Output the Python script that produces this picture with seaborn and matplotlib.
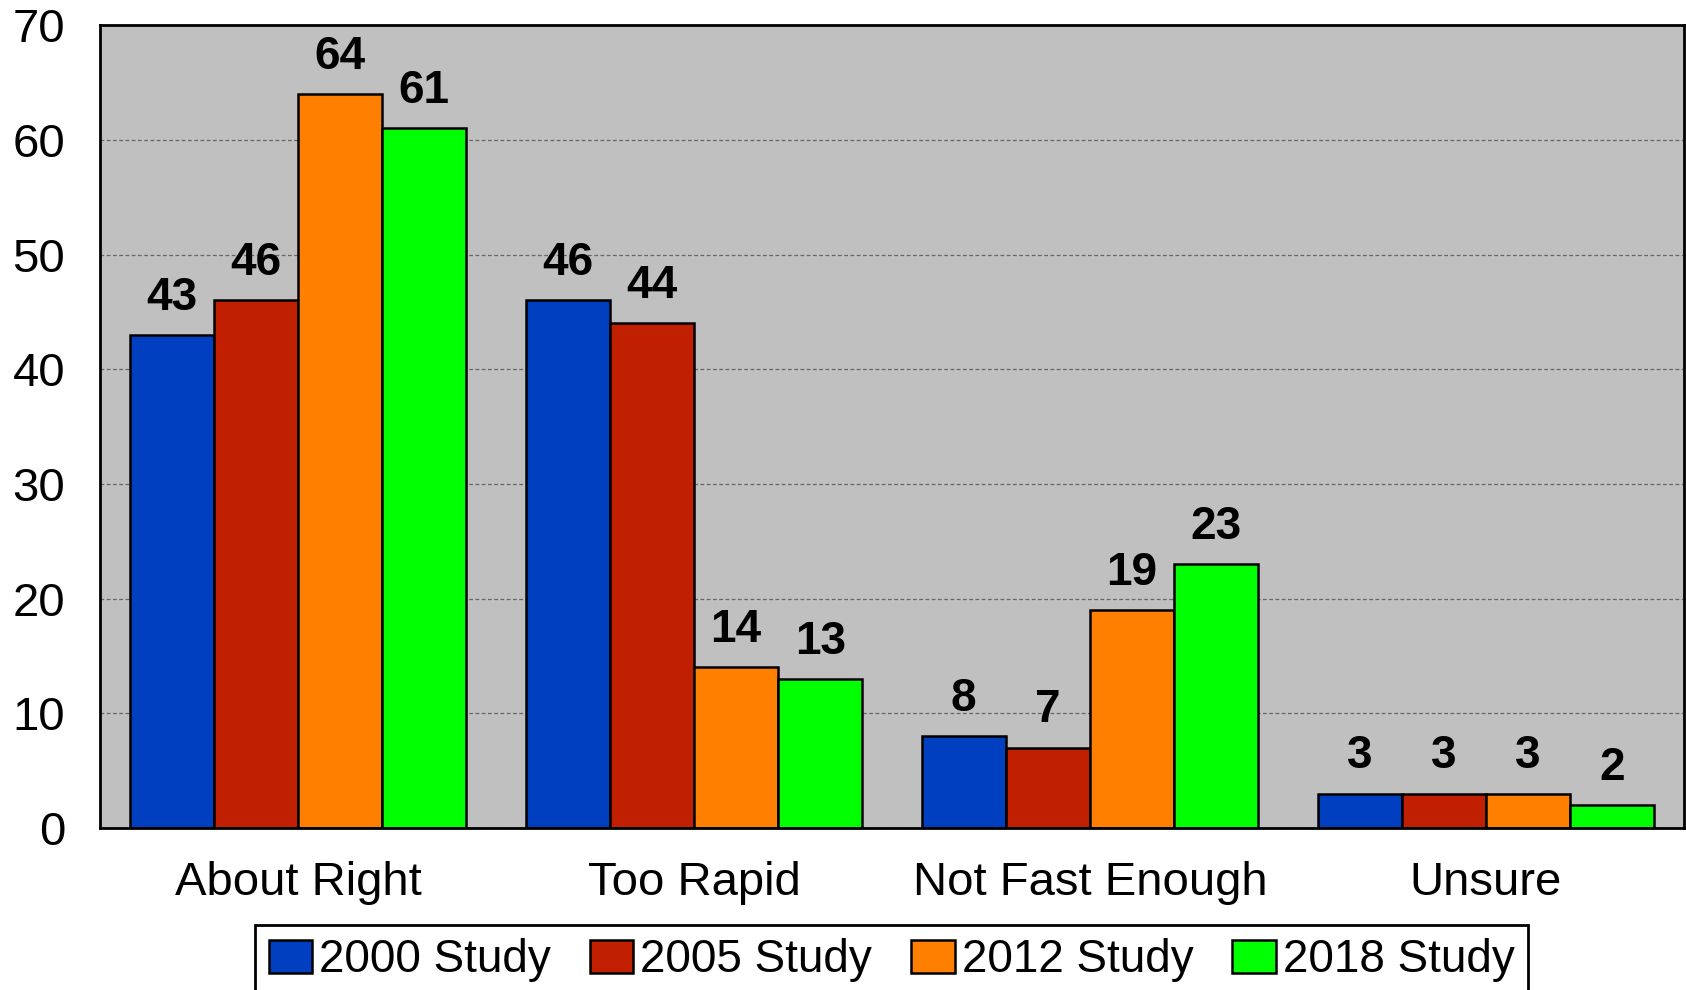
import pandas as pd
import seaborn as sns
import matplotlib.pyplot as plt

categories = ['About Right', 'Too Rapid', 'Not Fast Enough', 'Unsure']
studies = ['2000 Study', '2005 Study', '2012 Study', '2018 Study']
v2000 = [43, 46, 8, 3]
v2005 = [46, 44, 7, 3]
v2012 = [64, 14, 19, 3]
v2018 = [61, 13, 23, 2]
colors = ['#0040C0', '#C02000', '#FF8000', '#00FF00']

rows = []
for study, vals in zip(studies, [v2000, v2005, v2012, v2018]):
    for cat, v in zip(categories, vals):
        rows.append({'Response': cat, 'Study': study, 'Value': v})
df = pd.DataFrame(rows)

sns.set_style('ticks')
plt.rcParams['font.family'] = ['Liberation Sans', 'DejaVu Sans']
plt.rcParams['text.color'] = 'black'
plt.rcParams['xtick.color'] = 'black'
plt.rcParams['ytick.color'] = 'black'

fig = plt.figure(figsize=(16.86, 9.9), dpi=100)
ax = fig.add_axes([0.0593, 0.1636, 0.9395, 0.811])
ax.set_facecolor('#C0C0C0')

sns.barplot(data=df, x='Response', y='Value', hue='Study', palette=colors,
            saturation=1, width=0.85, gap=0, edgecolor='black', linewidth=1.8, ax=ax)

for c in ax.containers:
    ax.bar_label(c, fmt='%d', padding=11, fontsize=33, fontweight='bold', color='black')

ax.set_ylim(0, 70)
ax.set_xlim(-0.5, 3.5)
ax.set_yticks(range(0, 71, 10))
ax.yaxis.grid(True, linestyle=(0, (3, 2)), color='#666666', linewidth=0.9)
ax.set_axisbelow(True)
ax.tick_params(axis='y', labelsize=34, length=0, pad=25)
ax.tick_params(axis='x', labelsize=34, length=0, pad=24)
ax.set_xlabel('')
ax.set_ylabel('')
for s in ax.spines.values():
    s.set_visible(True)
    s.set_color('black')
    s.set_linewidth(2)

ax.get_legend().remove()
handles, labels = ax.get_legend_handles_labels()
leg = fig.legend(handles, labels, loc='upper center', bbox_to_anchor=(0.5288, 0.066),
                 ncol=4, fontsize=33, frameon=True, fancybox=False,
                 handlelength=0.95, handleheight=0.75, handletextpad=0.15, columnspacing=0.85,
                 borderpad=0.3, borderaxespad=0)
leg.get_frame().set_linewidth(2)
leg.get_frame().set_edgecolor('black')
leg.get_frame().set_alpha(1)

fig.savefig('out.png', dpi=100)
